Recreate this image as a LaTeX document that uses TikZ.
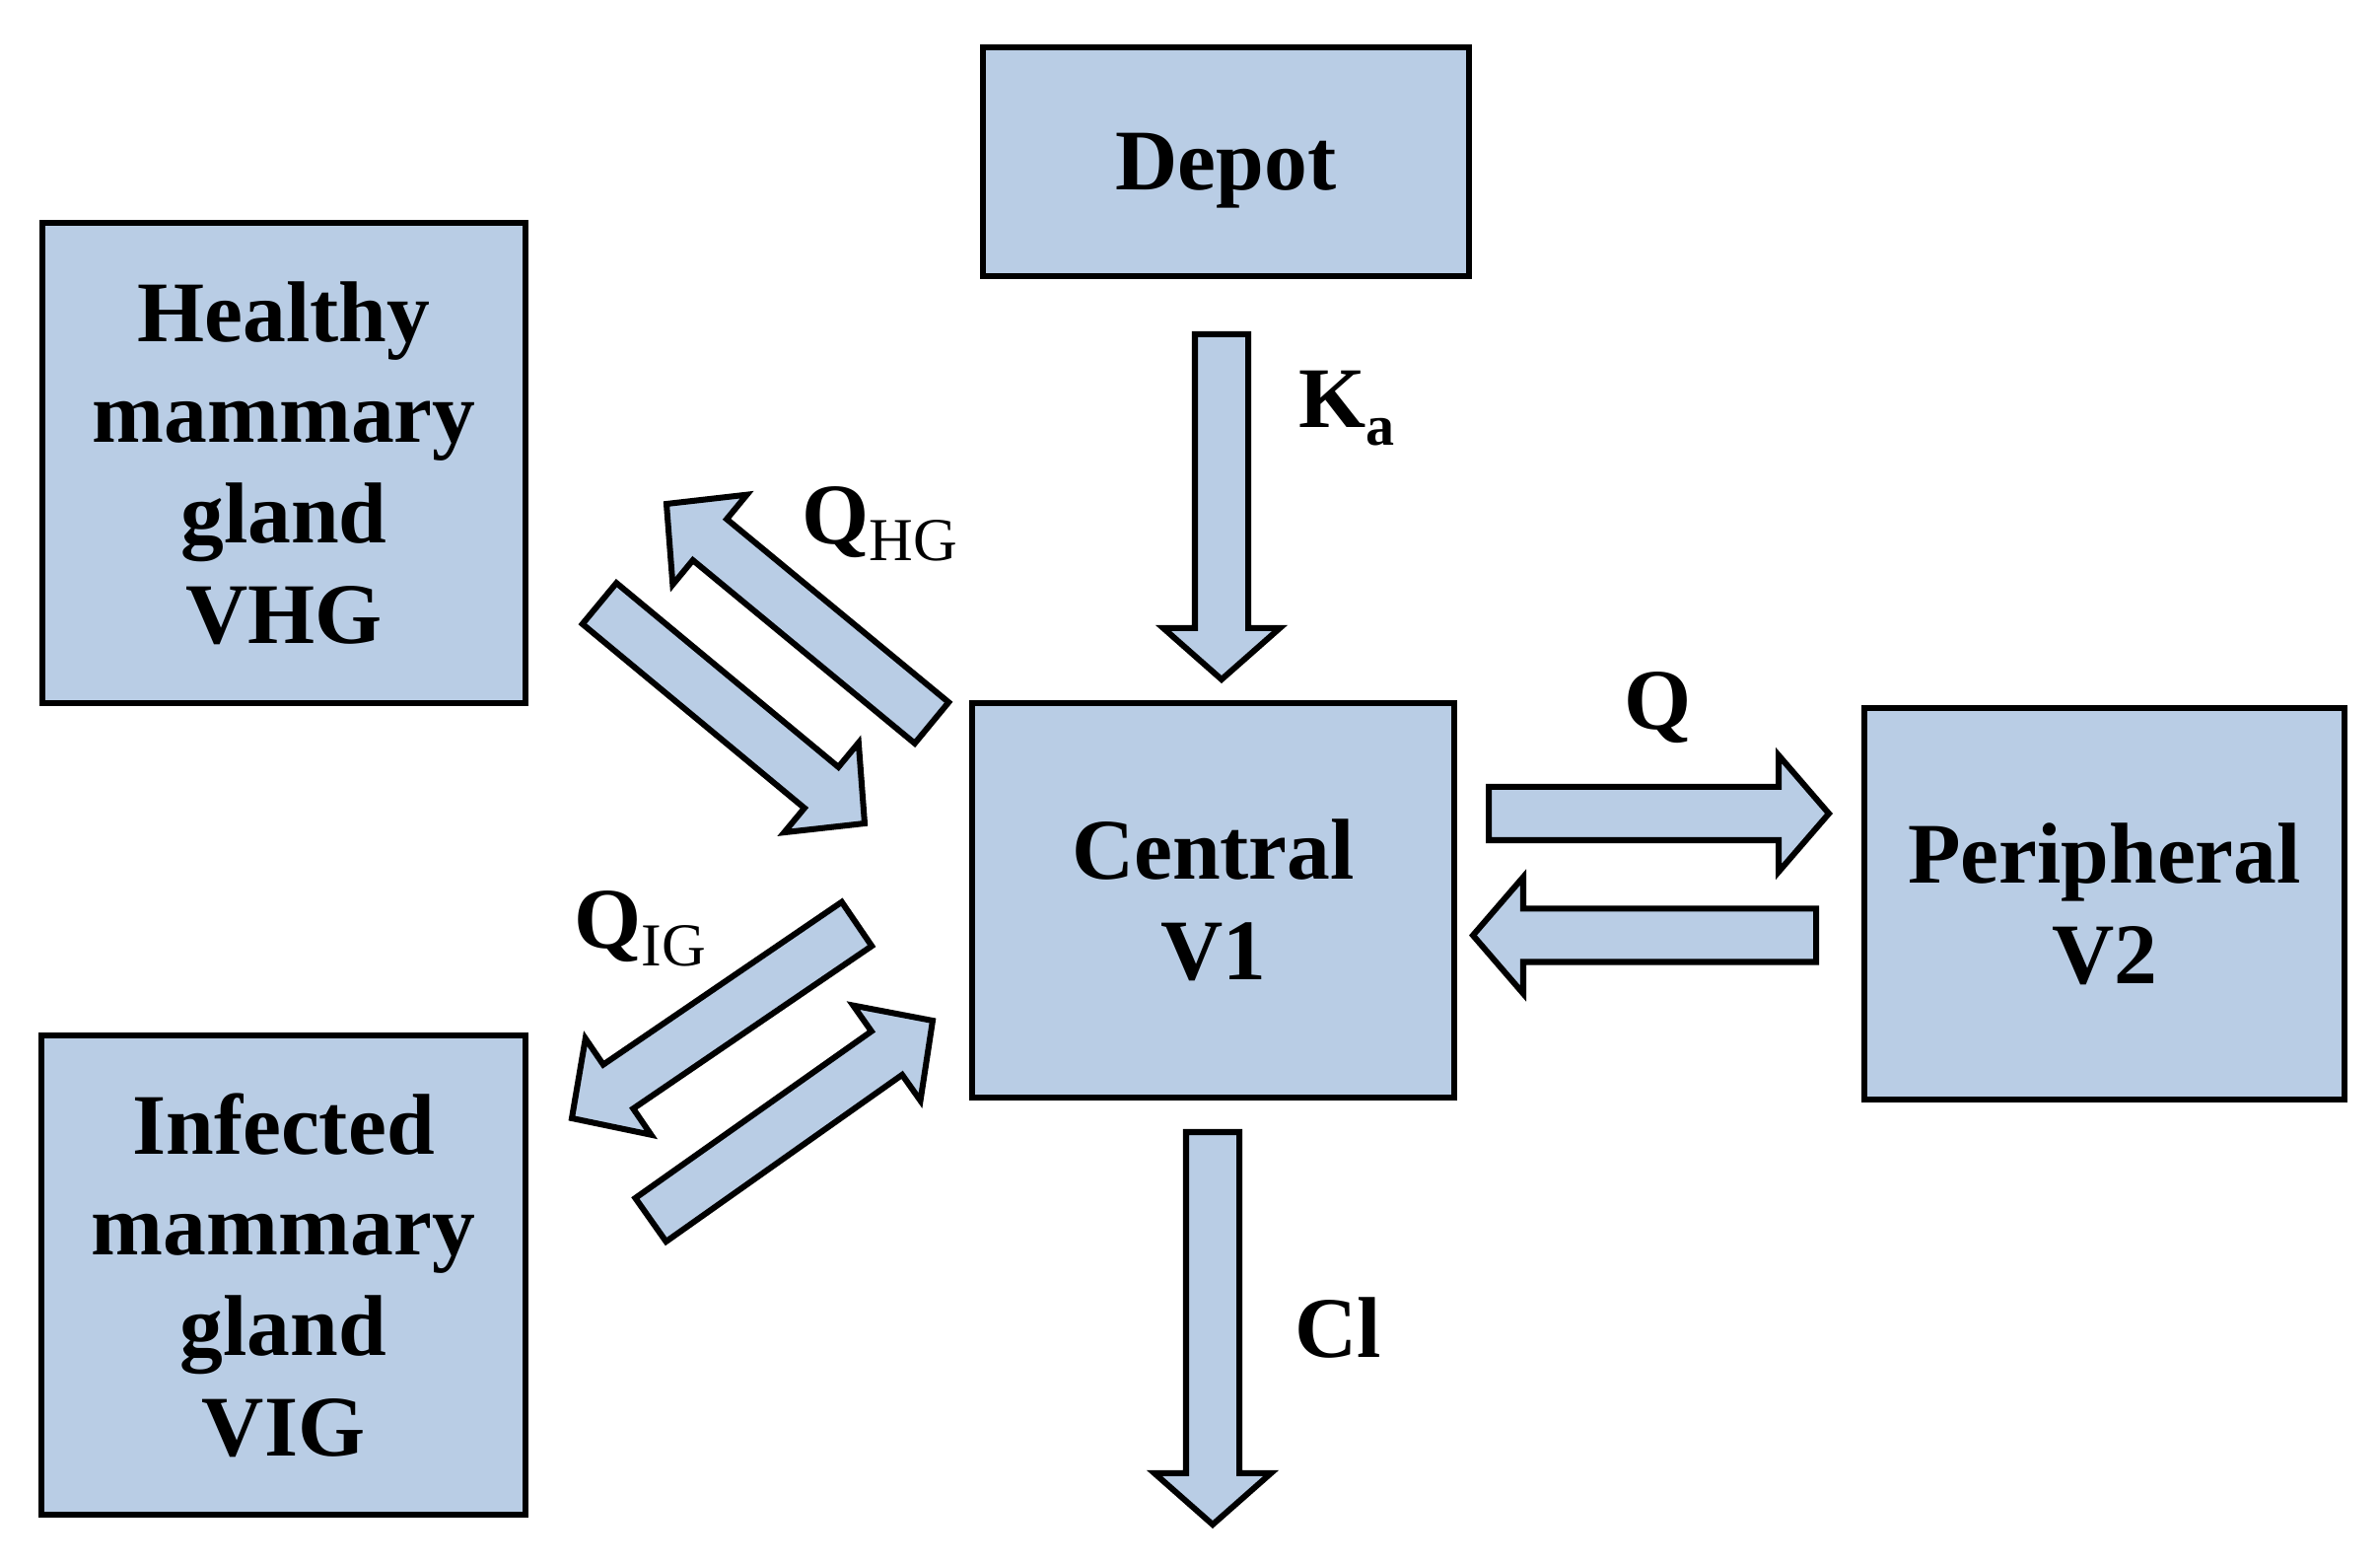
\documentclass[tikz,border=0pt]{standalone}
\usepackage{fontspec}
\setmainfont{Liberation Serif}
\usetikzlibrary{calc}
\definecolor{boxblue}{RGB}{185,205,229}
\newcommand\bigfnt{\fontsize{24.9}{29}\selectfont\bfseries}
\newcommand\subbf{\fontsize{16.5}{18}\selectfont\bfseries}
\newcommand\subrm{\fontsize{17.6}{19}\selectfont\mdseries}
\newcommand\arrsw{7.68pt}
\newcommand\arrhw{16.8pt}
\newcommand\blockarrow[3]{%
  \coordinate (#1-#2-h) at ($(#2)!#3!(#1)$);
  \draw[barrow] ($(#1)!\arrsw!90:(#2)$) -- ($(#1-#2-h)!\arrsw!90:(#2)$)
    -- ($(#1-#2-h)!\arrhw!90:(#2)$) -- (#2)
    -- ($(#1-#2-h)!\arrhw!-90:(#2)$) -- ($(#1-#2-h)!\arrsw!-90:(#2)$)
    -- ($(#1)!\arrsw!-90:(#2)$) -- cycle;}
\begin{document}
\begin{tikzpicture}[x=0.01cm, y=-0.01cm,
  compbox/.style={draw, line width=1.71pt, fill=boxblue, inner sep=0pt,
    align=center, font=\bigfnt},
  barrow/.style={draw, line width=1.71pt, fill=boxblue, line join=miter},
  lab/.style={inner sep=0pt, font=\bigfnt}]
\useasboundingbox (0,0) rectangle (2414,1586);
% compartments
\node[compbox, minimum width=493*0.28453pt, minimum height=232.5*0.28453pt, text depth=0pt]
  (depot) at (1243.5,164) {Depot};
\node[compbox, minimum width=490*0.28453pt, minimum height=487*0.28453pt]
  (healthy) at (288,469.5) {Healthy\\mammary\\gland\\VHG};
\node[compbox, minimum width=491*0.28453pt, minimum height=486*0.28453pt]
  (infected) at (287.5,1293) {Infected\\mammary\\gland\\VIG};
\node[compbox, minimum width=489*0.28453pt, minimum height=400*0.28453pt]
  (central) at (1230.5,913) {Central\\V1};
\node[compbox, minimum width=487*0.28453pt, minimum height=397*0.28453pt]
  (periph) at (2134.5,916.5) {Peripheral\\V2};
% arrow end points
\coordinate (kaT) at (1239,339);   \coordinate (kaP) at (1239,689);
\coordinate (qrT) at (1510,825);   \coordinate (qrP) at (1855,825);
\coordinate (qlT) at (1842,948.5); \coordinate (qlP) at (1494,948.5);
\coordinate (clT) at (1230,1148);  \coordinate (clP) at (1230,1546);
\coordinate (hoT) at (945,733);    \coordinate (hoP) at (676,511);
\coordinate (hiT) at (608,612);    \coordinate (hiP) at (877,835);
\coordinate (ioT) at (869,937);    \coordinate (ioP) at (580,1134);
\coordinate (iiT) at (660,1237);   \coordinate (iiP) at (946,1035);
% block arrows
\blockarrow{kaT}{kaP}{14.8pt}
\blockarrow{qrT}{qrP}{14.5pt}
\blockarrow{qlT}{qlP}{14.5pt}
\blockarrow{clT}{clP}{14.8pt}
\blockarrow{hoT}{hoP}{16.2pt}
\blockarrow{hiT}{hiP}{16.2pt}
\blockarrow{ioT}{ioP}{16.2pt}
\blockarrow{iiT}{iiP}{16.2pt}
% labels
\node[lab, anchor=base west] (ka) at (1317,434) {K\raisebox{-5.1pt}{\subbf a}};
\node[lab, anchor=base west] (qhg) at (813,552) {Q\raisebox{-4.6pt}{\subrm HG}};
\node[lab, anchor=base west] (qig) at (582,962) {Q\raisebox{-5pt}{\subrm IG}};
\node[lab, anchor=base] (q) at (1682,740) {Q};
\node[lab, anchor=base west] (cl) at (1313,1377) {Cl};
\end{tikzpicture}
\end{document}
